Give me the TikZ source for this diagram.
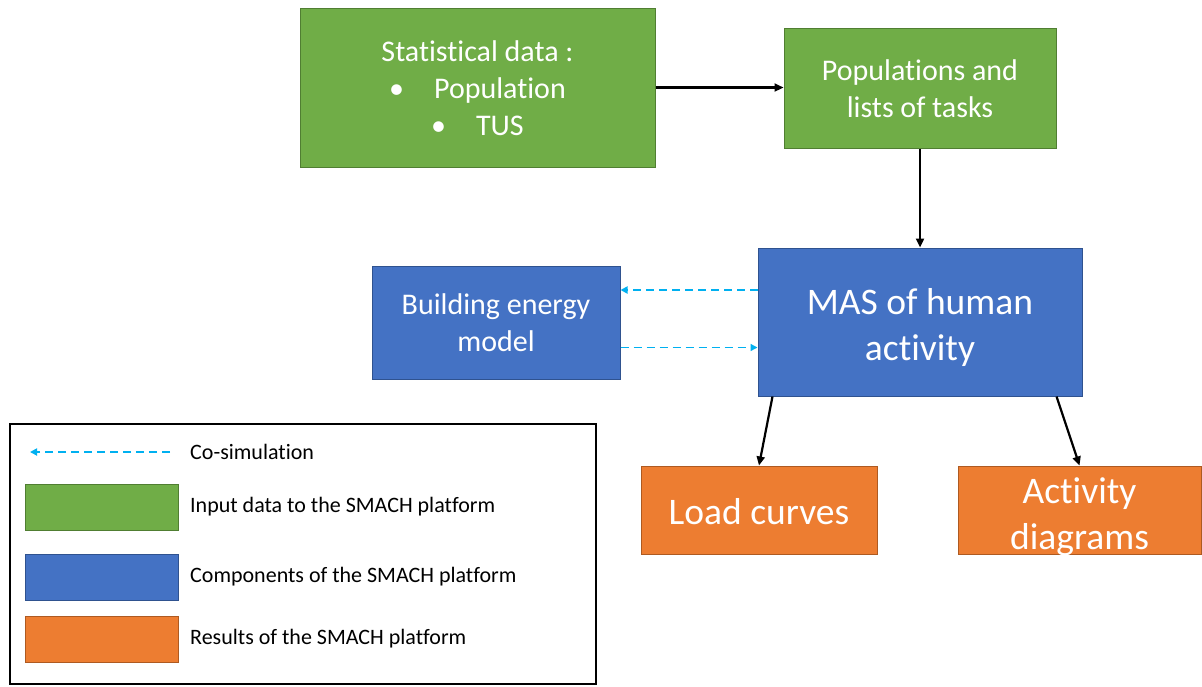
\documentclass[tikz,border=0pt]{standalone}
\usepackage{fontspec}
\setmainfont{Carlito}[Ligatures=NoCommon, RawFeature={-liga;-clig;-dlig}]
\usetikzlibrary{arrows.meta,calc}
\definecolor{cgreen}{HTML}{70AD47}
\definecolor{cgreenb}{HTML}{507E32}
\definecolor{cblue}{HTML}{4472C4}
\definecolor{cblueb}{HTML}{2F528F}
\definecolor{corange}{HTML}{ED7D31}
\definecolor{coranged}{HTML}{AE5A21}
\definecolor{ccyan}{HTML}{00B0F0}
\tikzset{
  box/.style={rectangle, inner sep=0pt, line width=1pt},
  gbox/.style={box, fill=cgreen, draw=cgreenb},
  bbox/.style={box, fill=cblue, draw=cblueb},
  obox/.style={box, fill=corange, draw=coranged},
  boxtext/.style={align=center, text=white, inner sep=0pt},
  midtext/.style={boxtext, font=\fontsize{30}{37}\selectfont},
  bigtext/.style={boxtext, font=\fontsize{37.5}{46}\selectfont},
  legtext/.style={font=\fontsize{22}{26}\selectfont, anchor=west, inner sep=0pt},
  flow/.style={line width=2.2pt, -{Triangle[length=9pt,width=8pt]}},
  cosim/.style={ccyan, line width=2pt, dash pattern=on 8pt off 5pt, -{Triangle[length=7pt,width=7pt]}},
  cosimthin/.style={cosim, line width=1.4pt}
}
\begin{document}
\begin{tikzpicture}[x=1pt,y=-1pt]
\useasboundingbox (0,0) rectangle (1202,686);
% main boxes
\node[gbox, minimum width=355pt, minimum height=159pt] (stat) at (477.5,87.5) {};
\node[midtext, yshift=-1pt] (stat-t) at (stat)
  {Statistical data :\\ \textbullet\hspace{30pt}Population\\ \textbullet\hspace{30pt}TUS};
\node[gbox, minimum width=272pt, minimum height=120pt] (pop) at (920,88) {};
\node[midtext, yshift=-1pt] (pop-t) at (pop) {Populations and\\ lists of tasks};
\node[bbox, minimum width=324pt, minimum height=148pt] (mas) at (920,322) {};
\node[bigtext, yshift=-5pt] (mas-t) at (mas) {MAS of human\\ activity};
\node[bbox, minimum width=248pt, minimum height=113pt] (bem) at (496,322.5) {};
\node[midtext, yshift=0pt] (bem-t) at (bem) {Building energy\\ model};
\node[obox, minimum width=236pt, minimum height=88pt] (load) at (759,510) {};
\node[bigtext, yshift=-2pt] (load-t) at (load) {Load curves};
\node[obox, minimum width=243pt, minimum height=88pt] (act) at (1079.5,510) {};
\node[bigtext, yshift=-7pt] (act-t) at (act) {Activity\\ diagrams};
% connectors
\draw[flow] (stat.east) -- (stat.east -| pop.west);
\draw[flow] (pop.south) -- (mas.north);
\draw[flow] ($(mas.south west)+(15,0)$) -- (load.north);
\draw[flow] ($(mas.south east)+(-26,0)$) -- (act.north);
\coordinate (c1) at ($(mas.west)+(0,-32)$);
\coordinate (c2) at ($(bem.east)+(0,25)$);
\draw[cosim] (c1) -- (c1 -| bem.east);
\draw[cosimthin] (c2) -- (c2 -| mas.west);
% legend
\node[draw=black, line width=1.3pt, rectangle, minimum width=586pt, minimum height=260pt, inner sep=0pt] (leg) at (303,554) {};
\coordinate (la) at (170,452);
\coordinate (lb) at (30,452);
\draw[cosim] (la) -- (lb);
\node[legtext] (lt0) at (190,452) {Co-simulation};
\node[gbox, minimum width=153pt, minimum height=46pt] (sw1) at (101.5,507) {};
\node[bbox, minimum width=153pt, minimum height=46pt] (sw2) at (101.5,577) {};
\node[obox, minimum width=153pt, minimum height=46pt] (sw3) at (101.5,639) {};
\node[legtext] (lt1) at (190,507) {Input data to the SMACH platform};
\node[legtext] (lt2) at (190,577) {Components of the SMACH platform};
\node[legtext] (lt3) at (190,639) {Results of the SMACH platform};
\end{tikzpicture}
\end{document}
